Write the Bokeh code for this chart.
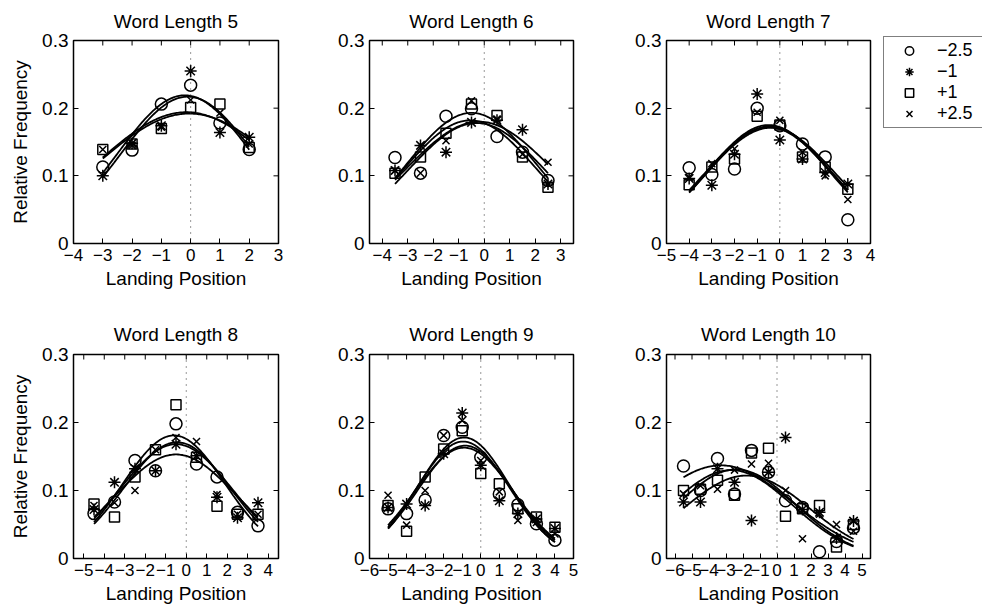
import numpy as np
from bokeh.plotting import figure
from bokeh.layouts import column, row
from bokeh.models import (FixedTicker, Span, Legend, LegendItem,
                          Range1d, CustomJSTickFormatter)
from bokeh.embed import file_html
from bokeh.resources import INLINE

FONT = "Liberation Sans"

# launch-site conditions and their markers
conditions = ["−2.5", "−1", "+1", "+2.5"]
markers = ["circle", "asterisk", "square", "x"]
marker_sizes = [12, 12, 10, 10]

word_lengths = [5, 6, 7, 8, 9, 10]

# landing positions relative to the word centre
pos5 = [-3, -2, -1, 0, 1, 2]
pos6 = [-3.5, -2.5, -1.5, -0.5, 0.5, 1.5, 2.5]
pos7 = [-4, -3, -2, -1, 0, 1, 2, 3]
pos8 = [-4.5, -3.5, -2.5, -1.5, -0.5, 0.5, 1.5, 2.5, 3.5]
pos9 = [-5, -4, -3, -2, -1, 0, 1, 2, 3, 4]
pos10 = [-5.5, -4.5, -3.5, -2.5, -1.5, -0.5, 0.5, 1.5, 2.5, 3.5, 4.5]

# relative landing frequencies, one list per condition
wl5_m25 = [0.113, 0.138, 0.206, 0.234, 0.178, 0.139]
wl5_m1 = [0.100, 0.148, 0.174, 0.255, 0.164, 0.157]
wl5_p1 = [0.139, 0.147, 0.170, 0.201, 0.206, 0.142]
wl5_p25 = [0.139, 0.145, 0.172, 0.212, 0.193, 0.147]

wl6_m25 = [0.127, 0.104, 0.188, 0.199, 0.158, 0.135, 0.093]
wl6_m1 = [0.108, 0.145, 0.135, 0.179, 0.182, 0.168, 0.088]
wl6_p1 = [0.104, 0.128, 0.163, 0.206, 0.189, 0.128, 0.083]
wl6_p25 = [0.108, 0.104, 0.152, 0.211, 0.184, 0.132, 0.120]

wl7_m25 = [0.112, 0.102, 0.110, 0.200, 0.174, 0.147, 0.128, 0.035]
wl7_m1 = [0.096, 0.086, 0.132, 0.221, 0.153, 0.125, 0.105, 0.088]
wl7_p1 = [0.087, 0.113, 0.125, 0.188, 0.175, 0.128, 0.113, 0.080]
wl7_p25 = [0.098, 0.118, 0.140, 0.194, 0.182, 0.135, 0.100, 0.065]

wl8_m25 = [0.066, 0.083, 0.144, 0.129, 0.198, 0.139, 0.120, 0.068, 0.048]
wl8_m1 = [0.072, 0.112, 0.132, 0.129, 0.168, 0.151, 0.090, 0.060, 0.082]
wl8_p1 = [0.080, 0.061, 0.120, 0.160, 0.226, 0.149, 0.077, 0.065, 0.065]
wl8_p25 = [0.078, 0.082, 0.100, 0.160, 0.178, 0.172, 0.094, 0.065, 0.065]

wl9_m25 = [0.073, 0.066, 0.086, 0.181, 0.193, 0.149, 0.095, 0.079, 0.051, 0.027]
wl9_m1 = [0.075, 0.080, 0.078, 0.154, 0.214, 0.137, 0.085, 0.066, 0.058, 0.044]
wl9_p1 = [0.078, 0.040, 0.120, 0.161, 0.188, 0.125, 0.110, 0.073, 0.061, 0.046]
wl9_p25 = [0.093, 0.049, 0.100, 0.181, 0.203, 0.144, 0.098, 0.056, 0.053, 0.036]

wl10_m25 = [0.136, 0.100, 0.147, 0.095, 0.159, 0.127, 0.085, 0.075, 0.010, 0.025, 0.045]
wl10_m1 = [0.083, 0.083, 0.132, 0.112, 0.056, 0.127, 0.178, 0.072, 0.068, 0.030, 0.055]
wl10_p1 = [0.100, 0.102, 0.115, 0.093, 0.155, 0.162, 0.062, 0.073, 0.078, 0.017, 0.050]
wl10_p25 = [0.095, 0.107, 0.102, 0.130, 0.139, 0.140, 0.100, 0.029, 0.065, 0.050, 0.040]

# Gaussian fits per condition: peak height, centre, spread
fit5_peak = [0.219, 0.217, 0.194, 0.192]
fit5_centre = [-0.20, -0.10, -0.15, -0.05]
fit5_spread = [2.30, 2.30, 3.10, 3.20]

fit6_peak = [0.193, 0.178, 0.182, 0.180]
fit6_centre = [-0.50, -0.30, -0.55, -0.20]
fit6_spread = [2.55, 2.70, 2.60, 2.90]

fit7_peak = [0.173, 0.171, 0.172, 0.175]
fit7_centre = [-0.45, -0.40, -0.50, -0.50]
fit7_spread = [2.75, 2.85, 2.80, 2.70]

fit8_peak = [0.181, 0.168, 0.171, 0.153]
fit8_centre = [-0.60, -0.50, -0.45, -0.50]
fit8_spread = [2.50, 2.75, 2.60, 2.95]

fit9_peak = [0.178, 0.163, 0.166, 0.172]
fit9_centre = [-0.90, -0.90, -0.85, -0.95]
fit9_spread = [2.45, 2.65, 2.55, 2.50]

fit10_peak = [0.137, 0.122, 0.131, 0.130]
fit10_centre = [-3.30, -1.80, -2.40, -2.70]
fit10_spread = [4.20, 3.70, 3.50, 3.60]

x_limits = [(-4, 3), (-4.5, 3.5), (-5, 4), (-5.5, 4.5), (-6, 5), (-6.5, 5.5)]
y_ticks = [0, 0.1, 0.2, 0.3]

positions = [pos5, pos6, pos7, pos8, pos9, pos10]
freqs = [
    [wl5_m25, wl5_m1, wl5_p1, wl5_p25],
    [wl6_m25, wl6_m1, wl6_p1, wl6_p25],
    [wl7_m25, wl7_m1, wl7_p1, wl7_p25],
    [wl8_m25, wl8_m1, wl8_p1, wl8_p25],
    [wl9_m25, wl9_m1, wl9_p1, wl9_p25],
    [wl10_m25, wl10_m1, wl10_p1, wl10_p25],
]
fits = [
    (fit5_peak, fit5_centre, fit5_spread),
    (fit6_peak, fit6_centre, fit6_spread),
    (fit7_peak, fit7_centre, fit7_spread),
    (fit8_peak, fit8_centre, fit8_spread),
    (fit9_peak, fit9_centre, fit9_spread),
    (fit10_peak, fit10_centre, fit10_spread),
]

# panel geometry (pixels)
col_left = [73, 71, 73]
col_right = [20, 20, 112]
col_frame = [205, 204, 204]
row_top = [40, 51]
row_bottom = [60, 51]
row_frame = [203, 204]
title_gap = [17, 19]
TICK_LEN = 5

X_FMT = 'return (tick < 0 ? "\u2212" : "") + Math.abs(tick);'
Y_FMT = 'return tick === 0 ? "0" : tick.toFixed(1);'


def style_axis(ax, ticks, code, size):
    ax.ticker = FixedTicker(ticks=ticks, minor_ticks=[])
    ax.formatter = CustomJSTickFormatter(code=code)
    ax.major_tick_in = TICK_LEN
    ax.major_tick_out = 0
    ax.minor_tick_in = 0
    ax.minor_tick_out = 0
    ax.major_tick_line_color = "black"
    ax.major_tick_line_width = 1
    ax.axis_line_color = None
    ax.major_label_text_font = FONT
    ax.major_label_text_color = "black"
    ax.major_label_text_font_size = size
    ax.major_label_standoff = 5
    ax.axis_label_text_font = FONT
    ax.axis_label_text_font_size = "19px"
    ax.axis_label_text_font_style = "normal"
    ax.axis_label_text_color = "black"


figs = []
for i, wl in enumerate(word_lengths):
    r, c = divmod(i, 3)
    lo, hi = x_limits[i]
    fw, fh = col_frame[c], row_frame[r]
    p = figure(
        frame_width=fw, frame_height=fh,
        min_border_left=col_left[c], min_border_right=col_right[c],
        min_border_top=row_top[r], min_border_bottom=row_bottom[r],
        x_range=Range1d(lo, hi), y_range=Range1d(0, 0.3),
        output_backend="svg", toolbar_location=None,
        background_fill_color="white", border_fill_color="white",
    )
    p.grid.visible = False
    p.outline_line_color = "black"
    p.outline_line_width = 1.5
    p.outline_line_alpha = 1.0

    p.title.text = f"Word Length {wl}"
    p.title.text_font = FONT
    p.title.text_font_size = "19px"
    p.title.text_font_style = "normal"
    p.title.align = "center"
    p.title.text_color = "black"
    p.title.standoff = title_gap[r]

    xticks = list(range(int(np.ceil(lo)), int(np.floor(hi)) + 1))

    style_axis(p.xaxis[0], xticks, X_FMT, "17px")
    style_axis(p.yaxis[0], y_ticks, Y_FMT, "19px")
    p.xaxis[0].axis_label = "Landing Position"
    p.xaxis[0].axis_label_standoff = 4
    if c == 0:
        p.yaxis[0].axis_label = "Relative Frequency"
        p.yaxis[0].axis_label_standoff = 8

    # inward tick marks along the top and right edges of the box
    dy = TICK_LEN * 0.3 / fh
    dx = TICK_LEN * (hi - lo) / fw
    p.segment(x0=xticks, y0=[0.3] * len(xticks), x1=xticks,
              y1=[0.3 - dy] * len(xticks), line_color="black", line_width=1)
    p.segment(x0=[hi] * len(y_ticks), y0=y_ticks, x1=[hi - dx] * len(y_ticks),
              y1=y_ticks, line_color="black", line_width=1)

    p.add_layout(Span(location=0, dimension="height", line_color="#333333",
                      line_width=1, line_dash="1 5"))

    xs = positions[i]
    peak, centre, spread = fits[i]
    xx = np.linspace(xs[0], xs[-1], 120)
    scatter_renderers = []
    for k in range(4):
        yy = peak[k] * np.exp(-((xx - centre[k]) ** 2) / (2 * spread[k] ** 2))
        p.line(xx, yy, line_color="black", line_width=1.8)
    for k in range(4):
        sr = p.scatter(xs, freqs[i][k], marker=markers[k], size=marker_sizes[k],
                       line_color="black", fill_color=None, line_width=1.5)
        scatter_renderers.append(sr)

    if i == 2:
        legend = Legend(
            items=[LegendItem(label=lab, renderers=[rr])
                   for lab, rr in zip(conditions, scatter_renderers)],
            location=(13, 115),
            margin=0, padding=3, spacing=0,
            glyph_width=44, glyph_height=21,
            label_height=21, label_width=42, label_standoff=6,
            label_text_font=FONT, label_text_font_size="18px",
            label_text_color="black",
            border_line_color="black", border_line_width=1,
            background_fill_color="white", background_fill_alpha=1.0,
        )
        p.add_layout(legend, "right")
    figs.append(p)

layout = column(row(*figs[:3]), row(*figs[3:]))
open("out.html", "w").write(file_html(layout, INLINE))
